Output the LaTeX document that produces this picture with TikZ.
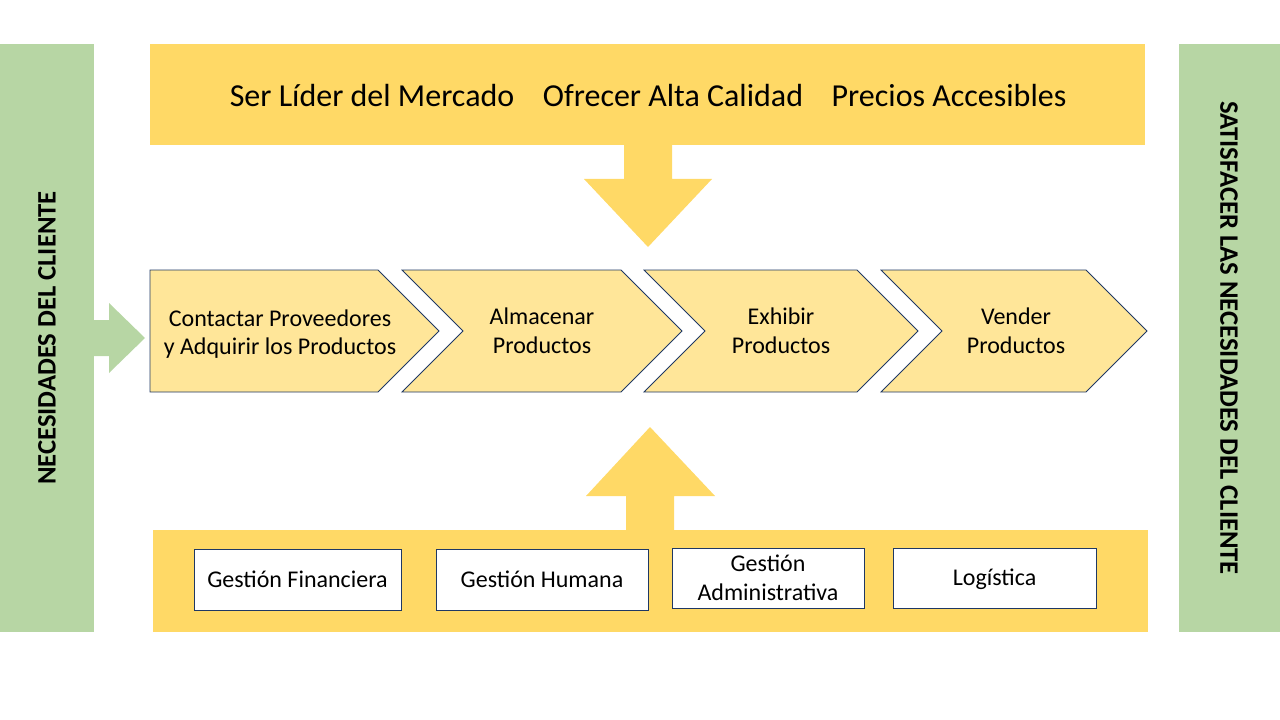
\documentclass[tikz,border=0pt]{standalone}
\usepackage{fontspec}
\setmainfont{Carlito}
\definecolor{bandyellow}{RGB}{255,217,102}
\definecolor{chevyellow}{RGB}{255,230,153}
\definecolor{sidegreen}{RGB}{183,214,164}
\definecolor{edgeblue}{RGB}{31,56,100}

\begin{document}
\begin{tikzpicture}[x=0.75pt,y=-0.75pt,
    chevron/.style={fill=chevyellow,draw=edgeblue,line width=0.6pt},
    chevtext/.style={font=\fontsize{18}{21.6}\selectfont,align=center},
    goaltext/.style={font=\fontsize{24}{28.8}\selectfont},
    areabox/.style={fill=white,draw=edgeblue,line width=0.75pt,font=\fontsize{18}{21.6}\selectfont,align=center,inner sep=0pt},
    sidetext/.style={font=\bfseries\fontsize{20}{24}\selectfont}]
    \useasboundingbox (0,0) rectangle (1280,720);

    \fill [sidegreen] (0,44) rectangle (94,632);
    \fill [sidegreen] (1179,44) rectangle (1280,632);
    \node [sidetext, rotate=90] (need) at (47,338) {NECESIDADES DEL CLIENTE};
    \node [sidetext, rotate=-90] (meet) at (1229,338) {SATISFACER LAS NECESIDADES DEL CLIENTE};
    \fill [sidegreen] (94,320) -- (109,320) -- (109,303) -- (145,338) -- (109,373) -- (109,356) -- (94,356) -- cycle;

    \fill [bandyellow] (150,44) rectangle (1145,145);
    \node [goaltext] (g1) at (372,96) {Ser Líder del Mercado};
    \node [goaltext] (g2) at (673,96) {Ofrecer Alta Calidad};
    \node [goaltext] (g3) at (949,96) {Precios Accesibles};
    \fill [bandyellow] (624,144) -- (672,144) -- (672,179) -- (712,179) -- (648,247) -- (584,179) -- (624,179) -- cycle;

    \draw [chevron] (150,270) -- (378,270) -- (439,331) -- (378,392) -- (150,392) -- cycle;
    \foreach \L/\R in {402/621, 644/857, 881/1086}
      \draw [chevron] (\L,270) -- (\R,270) -- (\R+61,331) -- (\R,392) -- (\L,392) -- (\L+61,331) -- cycle;
    \node [chevtext] (c1) at (280,334) {Contactar Proveedores\\y Adquirir los Productos};
    \node [chevtext] (c2) at (542,331) {Almacenar\\Productos};
    \node [chevtext] (c3) at (781,331) {Exhibir\\Productos};
    \node [chevtext] (c4) at (1016,331) {Vender\\Productos};

    \fill [bandyellow] (626,531) -- (626,496) -- (586,496) -- (650,427) -- (715,496) -- (674,496) -- (674,531) -- cycle;
    \fill [bandyellow] (153,530) rectangle (1148,632);
    \node [areabox, minimum width=207*0.75pt, minimum height=61*0.75pt] (a1) at (297.5,579.5) {Gestión Financiera};
    \node [areabox, minimum width=212*0.75pt, minimum height=61*0.75pt] (a2) at (542,579.5) {Gestión Humana};
    \node [areabox, minimum width=192*0.75pt, minimum height=60*0.75pt] (a3) at (768,578) {Gestión\\Administrativa};
    \node [areabox, minimum width=203*0.75pt, minimum height=60*0.75pt, text depth=1pt] (a4) at (994.5,578) {Logística};
\end{tikzpicture}
\end{document}
